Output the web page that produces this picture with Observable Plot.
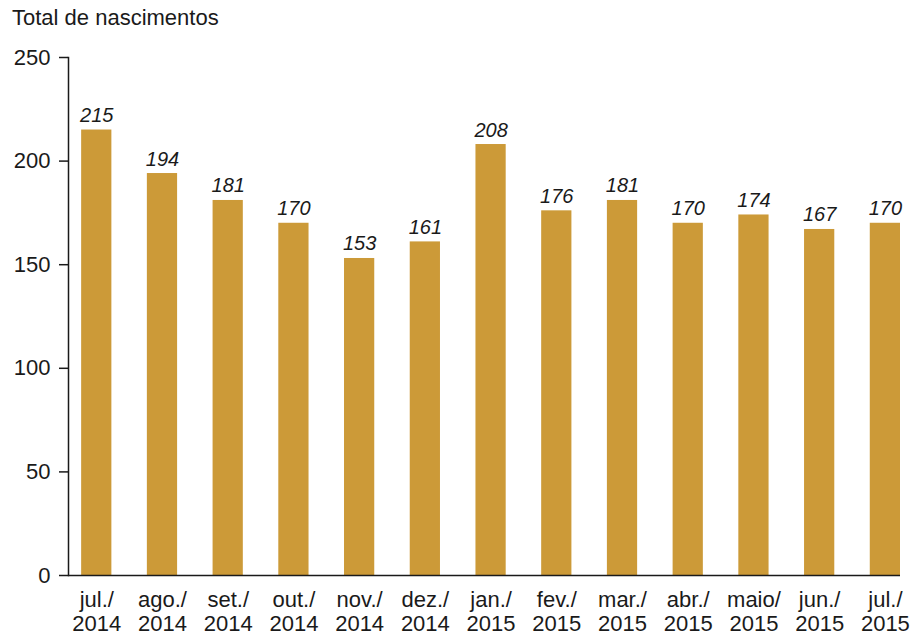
<!DOCTYPE html>
<html>
<head>
<meta charset="utf-8">
<script src="https://cdn.jsdelivr.net/npm/d3@7"></script>
<script src="https://cdn.jsdelivr.net/npm/@observablehq/plot@0.6"></script>
<style>
  html, body { margin: 0; padding: 0; background: #fff; }
  #title { font-family: "Liberation Sans", Arial, sans-serif; font-size: 22px; line-height: 22px; height: 36px; box-sizing: border-box; padding: 7px 0 0 12px; color: #1a1a1a; }
  svg { display: block; }
</style>
</head>
<body>
<div id="title">Total de nascimentos</div>
<div id="chart"></div>
<script>
const months = ["jul./\n2014", "ago./\n2014", "set./\n2014", "out./\n2014", "nov./\n2014", "dez./\n2014", "jan./\n2015", "fev./\n2015", "mar./\n2015", "abr./\n2015", "maio/\n2015", "jun./\n2015", "jul./\n2015"];
const births = [215, 194, 181, 170, 153, 161, 208, 176, 181, 170, 174, 167, 170];
const yTicks = [0, 50, 100, 150, 200, 250];

const data = months.map((m, i) => ({month: m, value: births[i]}));

const chart = Plot.plot({
  width: 915,
  height: 601,
  marginTop: 21,
  marginBottom: 62,
  marginLeft: 68,
  marginRight: 15,
  style: {fontFamily: "Liberation Sans, Arial, sans-serif", fontSize: "22px", color: "#1a1a1a", background: "#fff"},
  x: {domain: months, paddingInner: 0.54, paddingOuter: 0.1, align: 1, round: false, label: null},
  y: {domain: [0, 250], label: null},
  marks: [
    Plot.barY(data, {x: "month", y: "value", fill: "#cc9a38"}),
    Plot.text(data, {x: "month", y: "value", text: d => String(d.value), lineAnchor: "bottom", dy: -8, fontStyle: "italic", fontSize: 20, fill: "#1a1a1a"}),
    Plot.axisY({ticks: yTicks, tickSize: 9, tickPadding: 9, label: null, strokeWidth: 1.5}),
    Plot.frame({anchor: "left", strokeWidth: 1.5}),
    Plot.ruleY([0], {strokeWidth: 1.5}),
    Plot.axisX({tickSize: 0, tickPadding: 15, label: null, lineHeight: 1.08})
  ]
});
document.getElementById("chart").appendChild(chart);
</script>
</body>
</html>
